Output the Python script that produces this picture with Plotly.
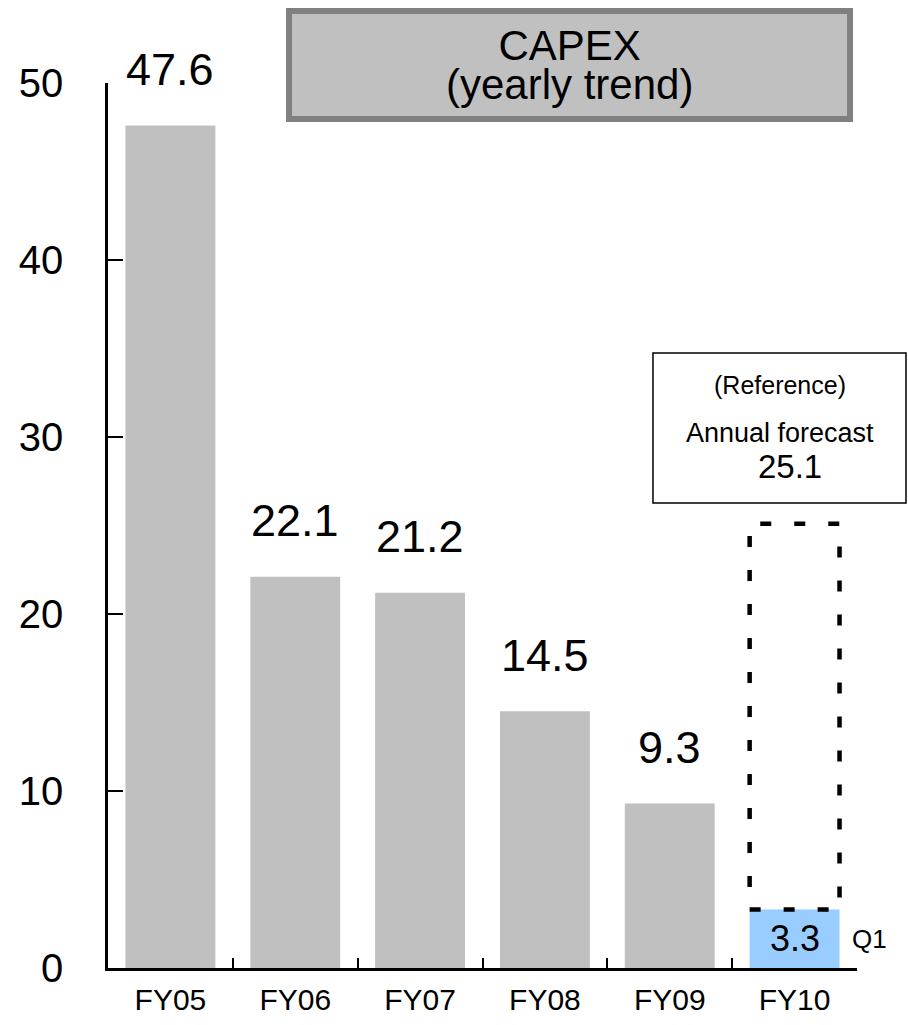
import plotly.graph_objects as go

# CAPEX by fiscal year (FY10 is Q1 actual only)
years = ["FY05", "FY06", "FY07", "FY08", "FY09", "FY10"]
capex = [47.6, 22.1, 21.2, 14.5, 9.3, 3.3]
fy10_forecast = 25.1
y_ticks = [0, 10, 20, 30, 40, 50]

GRAY = "#C0C0C0"
BLUE = "#99CCFF"
FONT = "Liberation Sans, Arial, sans-serif"

bar_colors = [GRAY] * (len(years) - 1) + [BLUE]

fig = go.Figure(
    go.Bar(
        x=years,
        y=capex,
        width=0.72,
        marker=dict(color=bar_colors, line=dict(width=0)),
        hoverinfo="skip",
    )
)

annotations = []
# value labels above the full-year bars
for yr, v in zip(years[:-1], capex[:-1]):
    annotations.append(dict(
        x=yr, y=v, xref="x", yref="y", text=f"{v:.1f}", showarrow=False,
        yanchor="middle", yshift=56, font=dict(size=45, color="black", family=FONT),
    ))
# Q1 actual inside the FY10 bar
annotations.append(dict(
    x=years[-1], y=capex[-1] / 2, xref="x", yref="y", text=f"{capex[-1]:.1f}",
    showarrow=False, yanchor="middle", font=dict(size=36, color="black", family=FONT),
))
annotations.append(dict(
    x=years[-1], y=capex[-1] / 2, xref="x", yref="y", text="Q1", showarrow=False,
    xshift=75, yanchor="middle", font=dict(size=26, color="black", family=FONT),
))
# title box text: 42px glyphs on a tighter 39px line pitch (base size 30 sets the pitch)
annotations.append(dict(
    x=0.6155, y=1.0203, xref="paper", yref="paper",
    text='<span style="font-size:42px">CAPEX</span><br>'
         '<span style="font-size:42px">(yearly trend)</span>',
    showarrow=False, xanchor="center", yanchor="middle",
    font=dict(size=30, color="black", family=FONT),
))
# reference forecast box text
annotations += [
    dict(x=0.8972, y=0.6588, xref="paper", yref="paper", text="(Reference)",
         showarrow=False, xanchor="center", yanchor="middle",
         font=dict(size=25, color="black", family=FONT)),
    dict(x=0.8972, y=0.6040, xref="paper", yref="paper", text="Annual forecast",
         showarrow=False, xanchor="center", yanchor="middle",
         font=dict(size=27, color="black", family=FONT)),
    dict(x=0.9110, y=0.5672, xref="paper", yref="paper", text=f"{fy10_forecast:.1f}",
         showarrow=False, xanchor="center", yanchor="middle",
         font=dict(size=33, color="black", family=FONT)),
]

shapes = [
    # dotted outline of the FY10 annual forecast above the Q1 actual
    dict(type="rect", xref="x", yref="y", x0=5 - 0.36, x1=5 + 0.36,
         y0=capex[-1], y1=fy10_forecast,
         line=dict(color="black", width=4.5, dash="11px,23px"),
         fillcolor="rgba(0,0,0,0)", layer="above"),
    # title box
    dict(type="rect", xref="paper", yref="paper", x0=0.2417, x1=0.9907,
         y0=0.9593, y1=1.0814, line=dict(color="#808080", width=6),
         fillcolor=GRAY, layer="below"),
    # reference box
    dict(type="rect", xref="paper", yref="paper", x0=0.7276, x1=1.0654,
         y0=0.5254, y1=0.6949, line=dict(color="black", width=1.5),
         fillcolor="white", layer="below"),
]

fig.update_layout(
    width=908, height=1025,
    margin=dict(l=108, r=51, t=83, b=57, pad=0, autoexpand=False),
    paper_bgcolor="white", plot_bgcolor="white",
    showlegend=False, bargap=0.28,
    font=dict(family=FONT, color="black"),
    annotations=annotations, shapes=shapes,
    xaxis=dict(
        type="category", range=[-0.5, 5.5], showline=True, linecolor="black",
        linewidth=2.5, ticks="inside", tickson="boundaries", ticklen=10,
        tickwidth=2, tickcolor="black", showgrid=False, automargin=False,
        tickfont=dict(size=30, family=FONT, color="black"), ticklabelstandoff=3,
    ),
    yaxis=dict(
        range=[0, 50], tickvals=y_ticks, showline=True, linecolor="black",
        linewidth=2.5, ticks="inside", ticklen=15, tickwidth=2, tickcolor="black",
        showgrid=False, zeroline=False, automargin=False,
        tickfont=dict(size=40, family=FONT, color="black"), ticklabelstandoff=34,
    ),
)

fig.write_html("out.html")
